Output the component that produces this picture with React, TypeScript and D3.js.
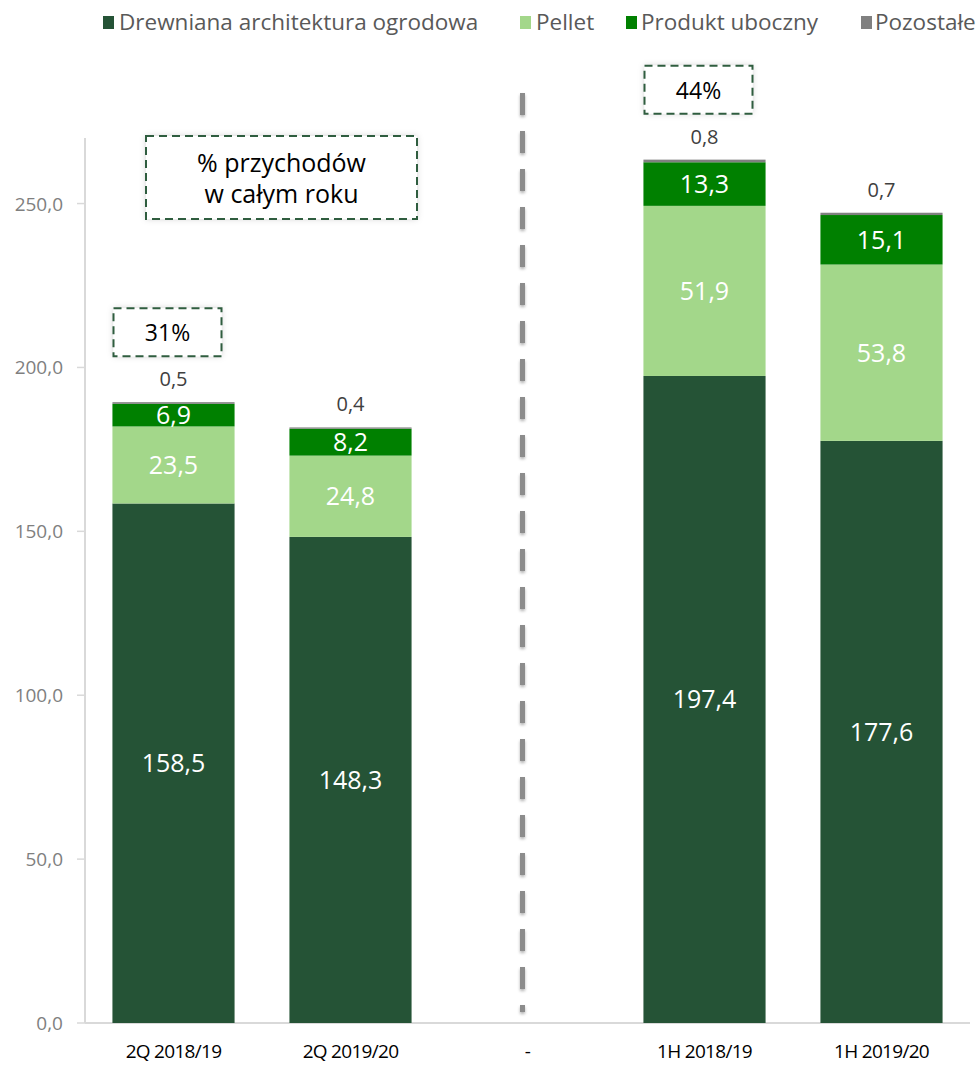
import React from "react";
import * as d3 from "d3";

const categories = ["2Q 2018/19", "2Q 2019/20", "-", "1H 2018/19", "1H 2019/20"];
const seriesNames = ["Drewniana architektura ogrodowa", "Pellet", "Produkt uboczny", "Pozostałe"];
const drewniana = [158.5, 148.3, 0, 197.4, 177.6];
const pellet = [23.5, 24.8, 0, 51.9, 53.8];
const produkt = [6.9, 8.2, 0, 13.3, 15.1];
const pozostale = [0.5, 0.4, 0, 0.8, 0.7];
const yTicks = [0, 50, 100, 150, 200, 250];
const shareLabels = [
  { cat: "2Q 2018/19", text: "31%" },
  { cat: "1H 2018/19", text: "44%" },
];
const noteLines = ["% przychodów", "w całym roku"];

const colors = ["#255336", "#a3d78a", "#008000", "#808080"];

const W = 977;
const H = 1065;
const left = 85;
const right = 970;
const baseY = 1023;
const topY = 138;

export default function App() {
  const x = d3.scaleBand<string>().domain(categories).range([left, right]).paddingInner(0.31).paddingOuter(0.155);
  const y = d3.scaleLinear().domain([0, 270]).range([baseY, topY]);
  const series = [drewniana, pellet, produkt, pozostale];
  const rows = categories.map((c, i) => ({ cat: c, s0: drewniana[i], s1: pellet[i], s2: produkt[i], s3: pozostale[i] }));
  const stack = d3.stack<any>().keys(["s0", "s1", "s2", "s3"])(rows);
  const fmt = (v: number) => v.toFixed(1).replace(".", ",");
  const font = "'Open Sans', 'Noto Sans', sans-serif";
  const bw = x.bandwidth();
  const sepX = (x("-") as number) + bw / 2 - 5;

  const legendItems = [
    { sx: 103, tx: 119 },
    { sx: 520, tx: 536 },
    { sx: 626, tx: 641 },
    { sx: 861, tx: 875 },
  ];

  return (
    <svg width={W} height={H} style={{ position: "absolute", left: 0, top: 0, background: "#fff" }} fontFamily={font}>
      <defs>
        <filter id="sh" x="-20%" y="-20%" width="140%" height="140%">
          <feDropShadow dx="0" dy="0" stdDeviation="3" floodColor="#000" floodOpacity="0.18" />
        </filter>
        <filter id="blur" filterUnits="userSpaceOnUse" x={sepX - 20} y={70} width={40} height={960}>
          <feDropShadow dx="0" dy="2" stdDeviation="1.5" floodColor="#000" floodOpacity="0.3" />
        </filter>
      </defs>

      {/* legend */}
      {seriesNames.map((n, i) => (
        <g key={n}>
          <rect x={legendItems[i].sx} y={16} width={11} height={13} fill={colors[i]} />
          <text x={legendItems[i].tx} y={30} fontSize={22.5} fill="#595959">{n}</text>
        </g>
      ))}

      {/* axes */}
      <line x1={left} x2={left} y1={topY} y2={baseY} stroke="#d9d9d9" strokeWidth={2} />
      <line x1={left} x2={right} y1={baseY} y2={baseY} stroke="#d9d9d9" strokeWidth={2} />
      {yTicks.map((t) => (
        <g key={t}>
          <line x1={left - 8} x2={left} y1={y(t)} y2={y(t)} stroke="#d9d9d9" strokeWidth={1.5} />
          <text x={63} y={y(t) + 7} textAnchor="end" fontSize={19} fill="#7f7f7f">{fmt(t)}</text>
        </g>
      ))}
      {categories.map((c) => (
        <text key={c} x={(x(c) as number) + bw / 2} y={1058} textAnchor="middle" fontSize={19} fill="#000" letterSpacing={-0.7}>{c}</text>
      ))}

      {/* separator */}
      <line x1={sepX} x2={sepX} y1={93} y2={1012} stroke="#8c8c8c" strokeWidth={5} strokeDasharray="22 16" filter="url(#blur)" />

      {/* bars */}
      {stack.map((layer, li) => (
        <g key={li}>
          {layer.map((d, i) => {
            const v = series[li][i];
            if (!v) return null;
            const x0 = x(categories[i]) as number;
            return <rect key={i} x={x0} width={bw} y={y(d[1])} height={y(d[0]) - y(d[1])} fill={colors[li]} />;
          })}
        </g>
      ))}
      {/* labels */}
      {stack.map((layer, li) =>
        layer.map((d, i) => {
          const v = series[li][i];
          if (!v) return null;
          const cx = (x(categories[i]) as number) + bw / 2;
          if (li === 3) {
            return <text key={`${li}-${i}`} x={cx} y={y(d[1]) - 16} textAnchor="middle" fontSize={20} fill="#404040">{fmt(v)}</text>;
          }
          const cy = (y(d[0]) + y(d[1])) / 2;
          return <text key={`${li}-${i}`} x={cx} y={cy + 9} textAnchor="middle" fontSize={25} fill="#fff">{fmt(v)}</text>;
        })
      )}

      {/* share boxes */}
      {shareLabels.map((s) => {
        const i = categories.indexOf(s.cat);
        const total = drewniana[i] + pellet[i] + produkt[i] + pozostale[i];
        const cx = (x(s.cat) as number) + bw / 2 - 6;
        const by = y(total) - 94;
        return (
          <g key={s.text}>
            <rect x={cx - 54} y={by} width={108} height={48} fill="#fff" filter="url(#sh)" />
            <rect x={cx - 54} y={by} width={108} height={48} fill="none" stroke="#2f5d3f" strokeWidth={2} strokeDasharray="8 5" />
            <text x={cx} y={by + 33} textAnchor="middle" fontSize={23} fill="#000">{s.text}</text>
          </g>
        );
      })}

      {/* note box */}
      <g>
        <rect x={146} y={136} width={271} height={83} fill="#fff" filter="url(#sh)" />
        <rect x={146} y={136} width={271} height={83} fill="none" stroke="#2f5d3f" strokeWidth={2} strokeDasharray="8 5" />
        {noteLines.map((l, k) => (
          <text key={l} x={281.5} y={172 + k * 31} textAnchor="middle" fontSize={25} fill="#000">{l}</text>
        ))}
      </g>
    </svg>
  );
}
